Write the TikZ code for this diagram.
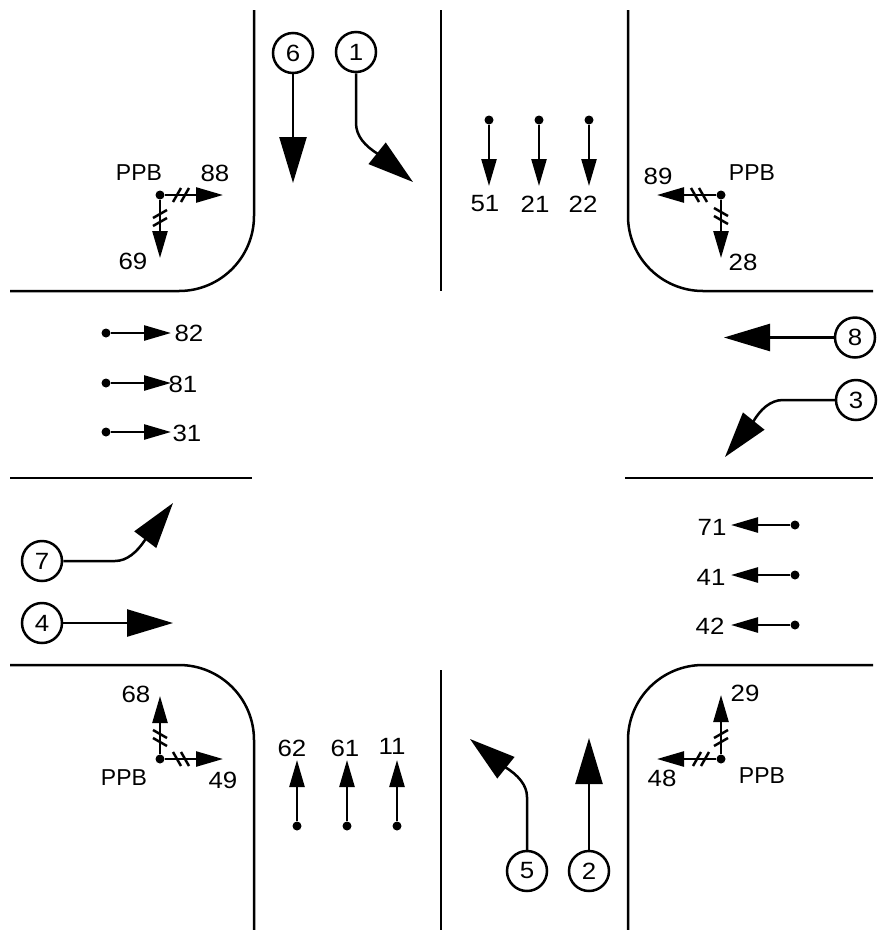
\documentclass[tikz,border=0pt]{standalone}
\usepackage{fontspec}
\setmainfont{Liberation Sans}
\newfontfamily\digitfont[FakeStretch=1.1]{Liberation Sans}
\usetikzlibrary{arrows.meta}
\tikzset{
  x=1pt,y=-1pt,
  road/.style={line width=2.5pt,line cap=butt},
  phase/.style={circle,draw,line width=2.5pt,fill=white,minimum size=40pt,inner sep=0pt,font=\fontsize{23.5}{24}\selectfont\digitfont},
  lbl/.style={inner sep=0pt,font=\fontsize{23.5}{24}\selectfont\digitfont},
  ppb/.style={inner sep=0pt,font=\fontsize{23}{24}\selectfont},
  sigdot/.style={circle,fill=black,minimum size=9pt,inner sep=0pt},
  bigarrow/.style={line width=2.5pt,-{Triangle[length=46pt,width=27pt]}},
  smallarrow/.style={line width=2.5pt,-{Triangle[length=27pt,width=15pt]}},
  tickmark/.style={line width=2.5pt}
}
% #1 centre of the pair, #2 other coordinate, #3 slant (+1 = /, -1 = \)
\newcommand{\hticks}[3]{\draw[tickmark] (#1-8,#2+#3*7) -- (#1,#2-#3*7) (#1,#2+#3*7) -- (#1+8,#2-#3*7);}
\newcommand{\vticks}[3]{\draw[tickmark] (#1-7,#2-4+#3*4) -- (#1+7,#2-4-#3*4) (#1-7,#2+4+#3*4) -- (#1+7,#2+4-#3*4);}
\begin{document}
\begin{tikzpicture}
\useasboundingbox (0,0) rectangle (878,930);
% roads
\draw[road] (254,10) -- (254,216) arc[start angle=0,end angle=90,radius=75] -- (10,291);
\draw[road] (441,10) -- (441,291);
\draw[road] (628,10) -- (628,216) arc[start angle=180,end angle=90,radius=75] -- (873,291);
\draw[road] (10,478) -- (252,478);
\draw[road] (625,478) -- (873,478);
\draw[road] (10,665) -- (179,665) arc[start angle=-90,end angle=0,radius=75] -- (254,930);
\draw[road] (441,670) -- (441,930);
\draw[road] (873,665) -- (703,665) arc[start angle=-90,end angle=-180,radius=75] -- (628,930);
% phases
\node[phase] (p6) at (293,53) {6};
\node[phase] (p1) at (356,52) {1};
\node[phase] (p8) at (855,337.5) {8};
\node[phase] (p3) at (856,400) {3};
\node[phase] (p7) at (42,561) {7};
\node[phase] (p4) at (42,623) {4};
\node[phase] (p5) at (527,871) {5};
\node[phase] (p2) at (589,871) {2};
\coordinate (t6) at (293,183);
\coordinate (t1) at (413,182);
\coordinate (t8) at (724,337.5);
\coordinate (t3) at (725,457);
\coordinate (t7) at (173,503);
\coordinate (t4) at (173,623);
\coordinate (t5) at (470,739);
\coordinate (t2) at (589,738);
\draw[bigarrow] (p6) -- (t6);
\draw[bigarrow] (p8) -- (t8);
\draw[bigarrow] (p4) -- (t4);
\draw[bigarrow] (p2) -- (t2);
\draw[bigarrow] (p1) -- (356,123) .. controls (356,136) and (365,146) .. (378,154) -- (t1);
\draw[bigarrow] (p3) -- (783,400) .. controls (770,400) and (760,410) .. (753,422) -- (t3);
\draw[bigarrow] (p7) -- (115,561) .. controls (127,561) and (137,552) .. (145,540) -- (t7);
\draw[bigarrow] (p5) -- (527,797) .. controls (527,785) and (518,775) .. (505,767) -- (t5);
% vehicle heads: north
\node[sigdot] (d51) at (489,120) {};
\node[sigdot] (d21) at (539,120) {};
\node[sigdot] (d22) at (589,120) {};
\coordinate (e51) at (489,186);
\coordinate (e21) at (539,186);
\coordinate (e22) at (589,186);
\draw[smallarrow] (d51) -- (e51);
\draw[smallarrow] (d21) -- (e21);
\draw[smallarrow] (d22) -- (e22);
\node[lbl] at (485,204) {51};
\node[lbl] at (535,204) {21};
\node[lbl] at (583,204) {22};
% west
\node[sigdot] (d82) at (106,333) {};
\node[sigdot] (d81) at (106,383) {};
\node[sigdot] (d31) at (106,432) {};
\coordinate (e82) at (171,333);
\coordinate (e81) at (171,383);
\coordinate (e31) at (171,432);
\draw[smallarrow] (d82) -- (e82);
\draw[smallarrow] (d81) -- (e81);
\draw[smallarrow] (d31) -- (e31);
\node[lbl] at (189,333) {82};
\node[lbl] at (183,384) {81};
\node[lbl] at (187,433) {31};
% east
\node[sigdot] (d71) at (795,525) {};
\node[sigdot] (d41) at (795,575) {};
\node[sigdot] (d42) at (795,625) {};
\coordinate (e71) at (731,525);
\coordinate (e41) at (731,575);
\coordinate (e42) at (731,625);
\draw[smallarrow] (d71) -- (e71);
\draw[smallarrow] (d41) -- (e41);
\draw[smallarrow] (d42) -- (e42);
\node[lbl] at (712,527) {71};
\node[lbl] at (711,577) {41};
\node[lbl] at (710,626) {42};
% south
\node[sigdot] (d62) at (297,826) {};
\node[sigdot] (d61) at (347,826) {};
\node[sigdot] (d11) at (397,826) {};
\coordinate (e62) at (297,760);
\coordinate (e61) at (347,760);
\coordinate (e11) at (397,760);
\draw[smallarrow] (d62) -- (e62);
\draw[smallarrow] (d61) -- (e61);
\draw[smallarrow] (d11) -- (e11);
\node[lbl] at (292,748) {62};
\node[lbl] at (345,748) {61};
\node[lbl] at (392,746) {11};
% pedestrians NW
\node[sigdot] (nw) at (160,195) {};
\coordinate (nwr) at (223,195);
\coordinate (nwd) at (160,258);
\draw[smallarrow] (nw) -- (nwr);
\draw[smallarrow] (nw) -- (nwd);
\hticks{181}{195}{1}
\vticks{160}{218}{1}
\node[ppb] at (139,173) {PPB};
\node[lbl] at (215,173) {88};
\node[lbl] at (133,261) {69};
% NE
\node[sigdot] (ne) at (721,195) {};
\coordinate (nel) at (657,195);
\coordinate (ned) at (721,258);
\draw[smallarrow] (ne) -- (nel);
\draw[smallarrow] (ne) -- (ned);
\hticks{699}{195}{-1}
\vticks{721}{216}{-1}
\node[ppb] at (752,173) {PPB};
\node[lbl] at (658,176) {89};
\node[lbl] at (743,262) {28};
% SW
\node[sigdot] (sw) at (160,759) {};
\coordinate (swu) at (160,696);
\coordinate (swr) at (223,759);
\draw[smallarrow] (sw) -- (swu);
\draw[smallarrow] (sw) -- (swr);
\hticks{181}{759}{-1}
\vticks{160}{738}{-1}
\node[ppb] at (124,778) {PPB};
\node[lbl] at (136,694) {68};
\node[lbl] at (223,780) {49};
% SE
\node[sigdot] (se) at (721,759) {};
\coordinate (seu) at (721,695);
\coordinate (sel) at (657,759);
\draw[smallarrow] (se) -- (seu);
\draw[smallarrow] (se) -- (sel);
\hticks{701}{759}{1}
\vticks{721}{738}{1}
\node[lbl] at (745,693) {29};
\node[lbl] at (662,778) {48};
\node[ppb] at (762,776) {PPB};
\end{tikzpicture}
\end{document}
